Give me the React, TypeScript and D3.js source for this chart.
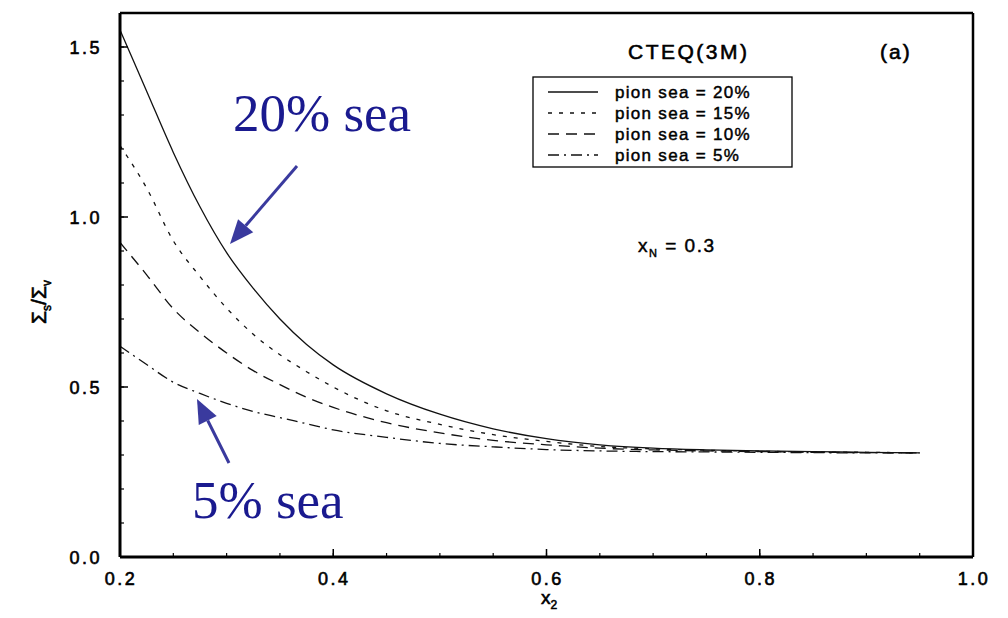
import React from "react";
import * as d3 from "d3";

// x2 grid shared by all curves
const xs = [0.2, 0.225, 0.25, 0.275, 0.3, 0.325, 0.35, 0.375, 0.4, 0.45, 0.5, 0.55, 0.6, 0.65, 0.7, 0.75, 0.8, 0.85, 0.9, 0.95];

// Σs/Σv for each pion sea fraction
const sea20 = [1.55, 1.37, 1.19, 1.03, 0.895, 0.79, 0.70, 0.625, 0.565, 0.48, 0.42, 0.377, 0.348, 0.33, 0.32, 0.315, 0.312, 0.31, 0.308, 0.306];
const sea15 = [1.21, 1.085, 0.93, 0.825, 0.732, 0.655, 0.595, 0.545, 0.50, 0.43, 0.39, 0.36, 0.34, 0.325, 0.318, 0.314, 0.311, 0.309, 0.308, 0.306];
const sea10 = [0.925, 0.83, 0.73, 0.66, 0.60, 0.548, 0.507, 0.47, 0.44, 0.395, 0.365, 0.343, 0.33, 0.32, 0.315, 0.312, 0.31, 0.308, 0.307, 0.306];
const sea5 = [0.62, 0.566, 0.514, 0.481, 0.452, 0.428, 0.41, 0.392, 0.374, 0.352, 0.334, 0.324, 0.316, 0.312, 0.31, 0.309, 0.308, 0.307, 0.306, 0.306];

const seriesLabels = ["pion sea = 20%", "pion sea = 15%", "pion sea = 10%", "pion sea = 5%"];
const seriesDash = ["none", "4,7", "11,7", "11,5,2,5"];
const seriesValues = [sea20, sea15, sea10, sea5];

const xTicks = [0.2, 0.4, 0.6, 0.8, 1.0];
const yTicks = [0.0, 0.5, 1.0, 1.5];

const W = 1008;
const H = 618;
const left = 120, right = 973, top = 13, bottom = 557;

const SANS = "'Liberation Sans', Arial, sans-serif";
const SERIF = "'Liberation Serif', 'Times New Roman', serif";

export default function App() {
  const x = d3.scaleLinear().domain([0.2, 1.0]).range([left, right]);
  const y = d3.scaleLinear().domain([0, 1.6]).range([bottom, top]);

  const line = d3
    .line<number>()
    .x((_, i) => x(xs[i]))
    .y((v) => y(v))
    .curve(d3.curveMonotoneX);

  const xMinor = d3.range(0.2, 1.0001, 0.05);
  const yMinor = d3.range(0, 1.6001, 0.1);

  // heavier strokes on the sans text give it the look of a printed figure
  const ink = { stroke: "#000", strokeWidth: 0.6 };
  const tickFont = { fontFamily: SANS, fontSize: 18, letterSpacing: 2.5, ...ink };
  const navy = "#1a1a8f";
  const arrowCol = "#3a3a9e";

  const arrow = (x1: number, y1: number, x2: number, y2: number) => {
    const ang = Math.atan2(y2 - y1, x2 - x1);
    const len = 24, half = 10;
    const bx = x2 - len * Math.cos(ang), by = y2 - len * Math.sin(ang);
    const px = -Math.sin(ang) * half, py = Math.cos(ang) * half;
    return (
      <g>
        <line x1={x1} y1={y1} x2={bx} y2={by} stroke={arrowCol} strokeWidth={3} />
        <polygon points={`${x2},${y2} ${bx + px},${by + py} ${bx - px},${by - py}`} fill={arrowCol} />
      </g>
    );
  };

  return (
    <svg width={W} height={H} style={{ position: "absolute", left: 0, top: 0, background: "#fff" }}>
      {/* curves */}
      {seriesValues.map((vals, i) => (
        <path key={i} d={line(vals) || ""} fill="none" stroke="#111" strokeWidth={1.3} strokeDasharray={seriesDash[i]} />
      ))}

      {/* frame */}
      <line x1={left} y1={top} x2={right} y2={top} stroke="#000" strokeWidth={2.5} />
      <line x1={right} y1={top} x2={right} y2={bottom} stroke="#000" strokeWidth={2.5} />
      <line x1={left} y1={top} x2={left} y2={bottom} stroke="#000" strokeWidth={3} />
      <line x1={left} y1={bottom} x2={right} y2={bottom} stroke="#000" strokeWidth={3} />

      {/* ticks */}
      {xMinor.map((t, i) => (
        <line key={"xm" + i} x1={x(t)} x2={x(t)} y1={bottom} y2={bottom - 4} stroke="#000" strokeWidth={1.2} />
      ))}
      {xTicks.map((t, i) => (
        <line key={"xM" + i} x1={x(t)} x2={x(t)} y1={bottom} y2={bottom - 8} stroke="#000" strokeWidth={1.5} />
      ))}
      {yMinor.map((t, i) => (
        <line key={"ym" + i} x1={left} x2={left + 4} y1={y(t)} y2={y(t)} stroke="#000" strokeWidth={1.2} />
      ))}
      {yTicks.map((t, i) => (
        <line key={"yM" + i} x1={left} x2={left + 8} y1={y(t)} y2={y(t)} stroke="#000" strokeWidth={1.5} />
      ))}

      {/* tick labels */}
      {xTicks.map((t, i) => (
        <text key={"xl" + i} x={x(t) + 1} y={bottom + 28} textAnchor="middle" {...tickFont}>
          {t.toFixed(1)}
        </text>
      ))}
      {yTicks.map((t, i) => (
        <text key={"yl" + i} x={102} y={y(t) + 7} textAnchor="end" {...tickFont}>
          {t.toFixed(1)}
        </text>
      ))}

      {/* axis titles */}
      <text x={541} y={604} fontFamily={SANS} fontSize={19} {...ink}>
        x<tspan dy={5} fontSize={12}>2</tspan>
      </text>
      <g transform="translate(46,302) rotate(-90)">
        <text x={0} y={0} textAnchor="middle" fontFamily={SANS} fontSize={21} {...ink}>
          Σ<tspan dy={5} fontSize={12}>s</tspan>
          <tspan dy={-5}>/Σ</tspan>
          <tspan dy={5} fontSize={12}>v</tspan>
        </text>
      </g>

      {/* title and panel tag */}
      <text x={628} y={59} fontFamily={SANS} fontSize={21} letterSpacing={2.5} {...ink}>
        CTEQ(3M)
      </text>
      <text x={880} y={59} fontFamily={SANS} fontSize={21} letterSpacing={2} {...ink}>
        (a)
      </text>

      {/* legend */}
      <rect x={533} y={77} width={259} height={90} fill="none" stroke="#000" strokeWidth={1.3} />
      {seriesLabels.map((lab, i) => {
        const ly = 92 + i * 21;
        return (
          <g key={"lg" + i}>
            <line x1={548} x2={598} y1={ly} y2={ly} stroke="#111" strokeWidth={1.3} strokeDasharray={seriesDash[i]} />
            <text x={615} y={ly + 6} fontFamily={SANS} fontSize={17} letterSpacing={1.3} stroke="#000" strokeWidth={0.45}>
              {lab}
            </text>
          </g>
        );
      })}

      {/* parameter note */}
      <text x={638} y={252} fontFamily={SANS} fontSize={19} letterSpacing={1.5} stroke="#000" strokeWidth={0.45}>
        x<tspan dy={5} fontSize={11}>N</tspan>
        <tspan dy={-5}> = 0.3</tspan>
      </text>

      {/* annotations */}
      <text x={233} y={131} fontFamily={SERIF} fontSize={53} fill={navy}>
        20% sea
      </text>
      {arrow(297, 166, 230, 244)}
      <text x={192} y={518} fontFamily={SERIF} fontSize={53} fill={navy}>
        5% sea
      </text>
      {arrow(229, 463, 197, 399)}
    </svg>
  );
}
